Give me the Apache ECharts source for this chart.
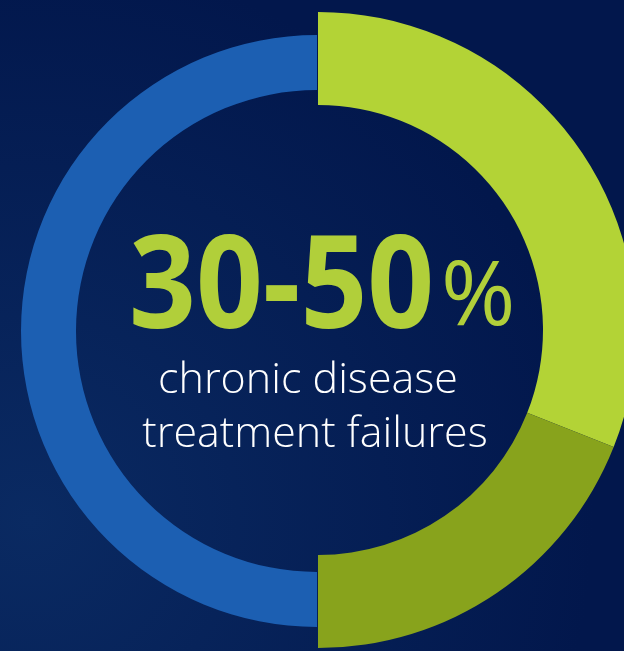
<!DOCTYPE html>
<html>
<head>
<meta charset="utf-8">
<script src="https://cdn.jsdelivr.net/npm/echarts@6/dist/echarts.min.js"></script>
<style>
html,body{margin:0;padding:0;background:#03194e;}
#chart{width:624px;height:651px;}
</style>
</head>
<body>
<div id="chart"></div>
<script>
// Data
const greenCategories = ['30%', '30–50%', 'Other'];
const greenValues = [31, 19, 50];
const blueCategories = ['Other', 'Remaining'];
const blueValues = [50, 50];
const headline = '30-50';
const headlineUnit = '%';
const captionLines = ['chronic disease', 'treatment failures'];

const chart = echarts.init(document.getElementById('chart'));
const greenColors = ['#b3d336', '#88a31c', 'rgba(0,0,0,0)'];
const blueColors = ['rgba(0,0,0,0)', '#1c5fb2'];

chart.setOption({
  backgroundColor: {
    type: 'radial', x: 0.05, y: 0.8, r: 0.9,
    colorStops: [{offset: 0, color: '#0a2a62'}, {offset: 1, color: '#02174c'}]
  },
  animation: false,
  series: [
    {
      type: 'pie',
      center: [317, 331],
      radius: [241, 296],
      startAngle: 90,
      clockwise: true,
      silent: true,
      label: {show: false},
      labelLine: {show: false},
      data: blueCategories.map((c, i) => ({name: c, value: blueValues[i], itemStyle: {color: blueColors[i]}}))
    },
    {
      type: 'pie',
      center: [318, 330],
      radius: [225, 318],
      startAngle: 90,
      clockwise: true,
      silent: true,
      label: {show: false},
      labelLine: {show: false},
      data: greenCategories.map((c, i) => ({name: c, value: greenValues[i], itemStyle: {color: greenColors[i]}}))
    }
  ],
  graphic: [
    {
      type: 'text',
      x: 129,
      y: 291,
      scaleX: 0.9,
      style: {
        text: headline,
        fontFamily: '"Open Sans"', fontWeight: 'bold', fontSize: 130, fill: '#b1cf3a',
        align: 'left', verticalAlign: 'middle'
      }
    },
    {
      type: 'text',
      x: 441,
      y: 299,
      style: {
        text: headlineUnit,
        fontFamily: '"Open Sans"', fontWeight: 'normal', fontSize: 90, fill: '#b1cf3a',
        align: 'left', verticalAlign: 'middle'
      }
    },
    {
      type: 'text',
      x: 308,
      y: 381,
      style: {
        text: captionLines[0],
        fontFamily: '"Open Sans"', fontWeight: 300, fontSize: 43, fill: '#ffffff',
        align: 'center', verticalAlign: 'middle'
      }
    },
    {
      type: 'text',
      x: 315,
      y: 435,
      style: {
        text: captionLines[1],
        fontFamily: '"Open Sans"', fontWeight: 300, fontSize: 43, fill: '#ffffff',
        align: 'center', verticalAlign: 'middle'
      }
    }
  ]
});
</script>
</body>
</html>
